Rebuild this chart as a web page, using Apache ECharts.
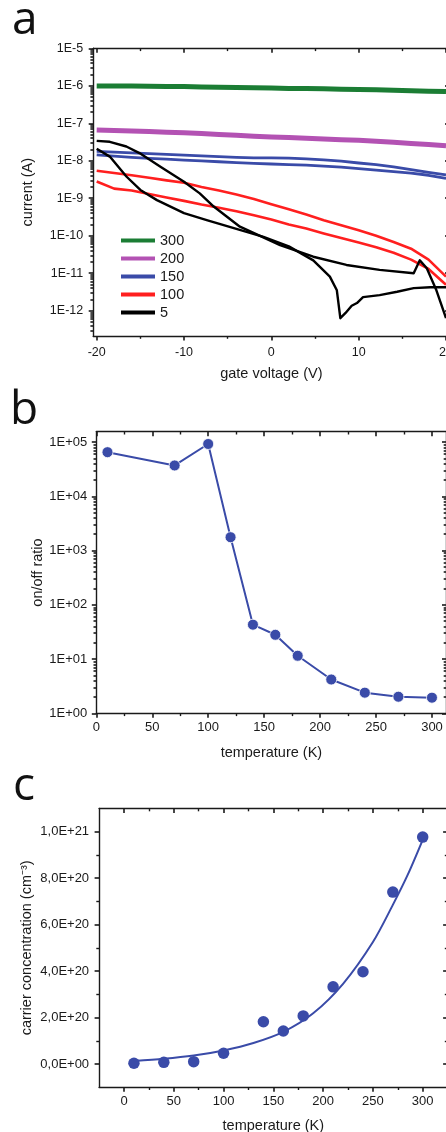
<!DOCTYPE html>
<html><head><meta charset="utf-8">
<script src="https://cdn.jsdelivr.net/npm/echarts@6/dist/echarts.min.js"></script>
<style>html,body{margin:0;padding:0;background:#fff;overflow:hidden;width:446px;height:1132px}#chart{width:460px;height:1132px}</style>
</head><body><div id="chart"></div>
<script>
// ---------------- Panel a: current vs gate voltage ----------------
const legendNames = ['300', '200', '150', '100', '5'];
const gateV = [-20,-18,-16,-14,-12,-10,-8,-6,-4,-2,0,2,4,6,8,10,12,14,16,18,20];
const i300 = [9.9e-7,9.8e-7,9.8e-7,9.7e-7,9.6e-7,9.5e-7,9.3e-7,9.1e-7,9.0e-7,8.8e-7,8.7e-7,8.5e-7,8.4e-7,8.3e-7,8.1e-7,7.9e-7,7.8e-7,7.6e-7,7.4e-7,7.2e-7,7.0e-7];
const i200 = [6.6e-8,6.4e-8,6.2e-8,6.0e-8,5.8e-8,5.6e-8,5.3e-8,5.0e-8,4.8e-8,4.5e-8,4.3e-8,4.2e-8,4.0e-8,3.8e-8,3.65e-8,3.5e-8,3.3e-8,3.1e-8,2.9e-8,2.7e-8,2.5e-8];
const i150Up = [1.78e-8,1.70e-8,1.62e-8,1.55e-8,1.48e-8,1.41e-8,1.35e-8,1.29e-8,1.23e-8,1.20e-8,1.19e-8,1.17e-8,1.12e-8,1.05e-8,9.8e-9,8.7e-9,7.9e-9,6.9e-9,5.8e-9,4.9e-9,4.2e-9];
const i150Down = [1.43e-8,1.32e-8,1.23e-8,1.15e-8,1.10e-8,1.04e-8,9.9e-9,9.4e-9,8.9e-9,8.5e-9,8.2e-9,7.9e-9,7.6e-9,7.2e-9,6.8e-9,6.2e-9,5.6e-9,5.1e-9,4.7e-9,4.1e-9,3.4e-9];
const i100Up = [5.4e-9,4.7e-9,4.1e-9,3.5e-9,3.0e-9,2.6e-9,2.0e-9,1.6e-9,1.26e-9,9.5e-10,6.9e-10,5.1e-10,3.7e-10,2.6e-10,1.9e-10,1.4e-10,1.0e-10,6.8e-11,4.5e-11,2.3e-11,8.1e-12];
const i100Down = [2.8e-9,1.8e-9,1.6e-9,1.3e-9,1.05e-9,8.5e-10,6.8e-10,5.6e-10,4.5e-10,3.5e-10,2.7e-10,2.0e-10,1.55e-10,1.15e-10,8.7e-11,6.6e-11,4.9e-11,3.5e-11,2.3e-11,1.3e-11,4.9e-12];
const v5Up = [-20,-18.5,-16.6,-15.1,-12.7,-10,-8.2,-6.6,-3.6,1.0,4.8,8.6,12.4,16.3,17.0,17.8,18.9,20];
const i5Up = [3.4e-8,3.2e-8,2.4e-8,1.6e-8,6.9e-9,2.75e-9,1.35e-9,6.0e-10,1.74e-10,5.6e-11,2.75e-11,1.66e-11,1.23e-11,1.0e-11,2.2e-11,1.35e-11,3.5e-12,6.3e-13];
const v5Down = [-20,-18.5,-16.6,-15,-13.1,-10,-7.4,-0.9,2,4.8,6.7,7.5,7.9,8.5,9.2,9.8,10.5,12.4,14.4,16.3,18.2,20];
const i5Down = [2.1e-8,1.29e-8,3.8e-9,1.66e-9,8.9e-10,4.0e-10,2.6e-10,9.3e-11,5.2e-11,2.2e-11,8.1e-12,3.5e-12,6.3e-13,8.7e-13,1.35e-12,1.6e-12,2.3e-12,2.6e-12,3.2e-12,4.0e-12,4.2e-12,4.2e-12];
const aXTicks = [-20, -10, 0, 10, 20];
const aYDecades = [1e-12, 1e-11, 1e-10, 1e-9, 1e-8, 1e-7, 1e-6, 1e-5];

// ---------------- Panel b: on/off ratio ----------------
const tempB = [10, 70, 100, 120, 140, 160, 180, 210, 240, 270, 300];
const onOff = [6.5e4, 3.7e4, 9.2e4, 1.76e3, 43, 28, 11.5, 4.2, 2.4, 2.02, 1.94];
const bXTicks = [0, 50, 100, 150, 200, 250, 300];
const bYDecades = [1, 10, 100, 1000, 1e4, 1e5];

// ---------------- Panel c: carrier concentration ----------------
const tempC = [10, 40, 70, 100, 140, 160, 180, 210, 240, 270, 300];
const carrier = [3e18, 7e18, 1.0e19, 4.6e19, 1.82e20, 1.42e20, 2.07e20, 3.32e20, 3.97e20, 7.4e20, 9.77e20];
const fitT = [10, 40, 70, 100, 130, 160, 190, 220, 250, 270, 285, 300];
const fitN = [1.3e19, 2.2e19, 3.6e19, 5.8e19, 9.0e19, 1.38e20, 2.18e20, 3.45e20, 5.25e20, 6.85e20, 8.15e20, 9.65e20];
const cXTicks = [0, 50, 100, 150, 200, 250, 300];
const cYTicks = [0, 2e20, 4e20, 6e20, 8e20, 1e21];

// ---------------- styling ----------------
const FONT = "'Liberation Sans', Arial, Helvetica, sans-serif";
const AXC = '#1a1a1a', TXT = '#1a1a1a';
const C300 = '#1b7d34', C200 = '#b352b3', C150 = '#3a4ba8', C100 = '#ff1f1f', C5 = '#000000';
const BLUE = '#3a4ba8';
const TL = 4.5, ML = 2.8;   // major / minor tick lengths
const lg = Math.log10;
const pairs = (xs, ys) => xs.map((x, i) => [x, ys[i]]);
const first = a => a[0], last = a => a[a.length - 1], step = a => a[1] - a[0];

const xAxes = [], yAxes = [];
function axis(list, gi, pos, type, min, max, o) {
  o = o || {};
  const cfg = {
    type: type, gridIndex: gi, position: pos, min: min, max: max, offset: o.offset || 0,
    axisLine: {show: !!o.line, onZero: false, lineStyle: {color: AXC, width: 1.4}},
    axisTick: {show: !!o.ticks, inside: true, length: o.len || TL, lineStyle: {color: AXC, width: 1.6}},
    minorTick: {show: !!o.minor, splitNumber: o.minor || 5, length: ML, lineStyle: {color: AXC, width: 1.4}},
    axisLabel: {show: !!o.labels, margin: o.margin || 6, fontFamily: FONT, fontSize: o.fs || 13, color: TXT},
    splitLine: {show: false}, minorSplitLine: {show: false}
  };
  if (o.name) {
    cfg.name = o.name; cfg.nameLocation = 'middle'; cfg.nameGap = o.nameGap; cfg.nameMoveOverlap = false;
    cfg.nameTextStyle = {fontFamily: FONT, fontSize: 14.5, color: TXT};
  }
  if (type === 'log') cfg.logBase = 10;
  if (o.interval) cfg.interval = o.interval;
  if (Array.isArray(o.ticks)) cfg.axisTick.customValues = o.ticks;
  if (o.fmt) cfg.axisLabel.formatter = o.fmt;
  list.push(cfg);
  return list.length - 1;
}
function logMinorExps(decades, lo, hi) {
  const out = [];
  [decades[0] / 10].concat(decades).forEach(d => {
    for (let k = 2; k <= 9; k++) { const v = k * d; if (v > lo && v < hi) out.push(lg(v)); }
  });
  return out;
}
const isPow = v => Math.abs(lg(v) - Math.round(lg(v))) < 1e-6;

// ===== panel a =====
const aXMin = -20.4, aXMax = 20.4, aYMin = 2.11e-13, aYMax = 1e-5;
const aX = axis(xAxes, 0, 'bottom', 'value', aXMin, aXMax, {line: true, name: 'gate voltage (V)', nameGap: 30});
axis(xAxes, 0, 'top', 'value', aXMin, aXMax, {line: true});
const aY = axis(yAxes, 0, 'left', 'log', aYMin, aYMax, {line: true, name: 'current (A)', nameGap: 58});
axis(yAxes, 0, 'right', 'log', aYMin, aYMax, {line: true});
const aMinorE = logMinorExps(aYDecades, aYMin, aYMax);
axis(yAxes, 0, 'left', 'value', lg(aYMin), lg(aYMax), {ticks: aMinorE, len: ML, offset: ML});
axis(yAxes, 0, 'right', 'value', lg(aYMin), lg(aYMax), {ticks: aMinorE, len: ML});
axis(xAxes, 3, 'bottom', 'value', first(aXTicks), last(aXTicks), {interval: step(aXTicks), ticks: true, offset: 25.3 + TL, labels: true, fs: 12.5, margin: 5.5});
axis(xAxes, 3, 'bottom', 'value', first(aXTicks), last(aXTicks), {interval: step(aXTicks), minor: 2, offset: 25.3 + ML});
axis(xAxes, 3, 'top', 'value', first(aXTicks), last(aXTicks), {interval: step(aXTicks), ticks: true, minor: 2});
axis(yAxes, 3, 'left', 'log', first(aYDecades), last(aYDecades), {ticks: true, offset: 3.5 + TL, labels: true, fs: 12.5, margin: 5.5,
  fmt: v => isPow(v) ? '1E' + Math.round(lg(v)) : ''});
axis(yAxes, 3, 'right', 'log', first(aYDecades), last(aYDecades), {ticks: true, offset: 3.5});

// ===== panel b =====
const bXMin = 0, bXMax = 313, bYMin = 1, bYMax = 1.55e5;
const bX = axis(xAxes, 1, 'bottom', 'value', bXMin, bXMax, {line: true, name: 'temperature (K)', nameGap: 32});
axis(xAxes, 1, 'top', 'value', bXMin, bXMax, {line: true});
const bY = axis(yAxes, 1, 'left', 'log', bYMin, bYMax, {line: true, name: 'on/off ratio', nameGap: 51});
axis(yAxes, 1, 'right', 'log', bYMin, bYMax, {line: true});
const bMinorE = logMinorExps(bYDecades, bYMin, bYMax);
axis(yAxes, 1, 'left', 'value', lg(bYMin), lg(bYMax), {ticks: bMinorE, len: ML, offset: ML});
axis(yAxes, 1, 'right', 'value', lg(bYMin), lg(bYMax), {ticks: bMinorE, len: ML});
axis(xAxes, 4, 'bottom', 'value', first(bXTicks), last(bXTicks), {interval: step(bXTicks), ticks: true, offset: TL, labels: true, margin: 3.5});
axis(xAxes, 4, 'bottom', 'value', first(bXTicks), last(bXTicks), {interval: step(bXTicks), minor: 2, offset: ML});
axis(xAxes, 4, 'top', 'value', first(bXTicks), last(bXTicks), {interval: step(bXTicks), ticks: true, minor: 2, offset: 10.3});
axis(yAxes, 4, 'left', 'log', first(bYDecades), last(bYDecades), {ticks: true, offset: TL, labels: true, margin: 4.5,
  fmt: v => { if (!isPow(v)) return ''; const e = Math.round(lg(v)); return '1E' + (e < 0 ? '-' : '+') + String(Math.abs(e)).padStart(2, '0'); }});
axis(yAxes, 4, 'right', 'log', first(bYDecades), last(bYDecades), {ticks: true, offset: 14.5});

// ===== panel c =====
const cXMin = -25, cXMax = 325, cYMin = -1e20, cYMax = 1.1e21;
const cX = axis(xAxes, 2, 'bottom', 'value', cXMin, cXMax, {line: true, name: 'temperature (K)', nameGap: 31});
axis(xAxes, 2, 'top', 'value', cXMin, cXMax, {line: true});
const cY = axis(yAxes, 2, 'left', 'value', cYMin, cYMax, {line: true, name: 'carrier concentration (cm⁻³)', nameGap: 65});
axis(yAxes, 2, 'right', 'value', cYMin, cYMax, {line: true});
axis(xAxes, 5, 'bottom', 'value', first(cXTicks), last(cXTicks), {interval: step(cXTicks), ticks: true, offset: 23.2 + TL, labels: true, margin: 3.5});
axis(xAxes, 5, 'bottom', 'value', first(cXTicks), last(cXTicks), {interval: step(cXTicks), minor: 2, offset: 23.2 + ML});
axis(xAxes, 5, 'top', 'value', first(cXTicks), last(cXTicks), {interval: step(cXTicks), ticks: true, minor: 2, offset: 23.2});
axis(yAxes, 5, 'left', 'value', first(cYTicks), last(cYTicks), {interval: step(cYTicks), ticks: true, offset: 24.9 + TL, labels: true, margin: 5.5,
  fmt: v => { if (v === 0) return '0,0E+00'; const e = Math.floor(lg(v) + 1e-9); return (v / Math.pow(10, e)).toFixed(1).replace('.', ',') + 'E+' + e; }});
axis(yAxes, 5, 'left', 'value', first(cYTicks), last(cYTicks), {interval: step(cYTicks), minor: 2, offset: 24.9 + ML});
axis(yAxes, 5, 'right', 'value', first(cYTicks), last(cYTicks), {interval: step(cYTicks), ticks: true, minor: 2, offset: 24.9});

function lineA(name, xs, ys, color, width) {
  return {type: 'line', name: name, xAxisIndex: aX, yAxisIndex: aY, data: pairs(xs, ys), symbol: 'none', showSymbol: false,
    color: color, itemStyle: {color: color}, lineStyle: {color: color, width: width, join: 'round'}};
}

const series = [
  lineA('300', gateV, i300, C300, 5),
  lineA('200', gateV, i200, C200, 5),
  lineA('150', gateV, i150Up, C150, 2.8),
  lineA('150', gateV, i150Down, C150, 2.8),
  lineA('100', gateV, i100Up, C100, 2.6),
  lineA('100', gateV, i100Down, C100, 2.6),
  lineA('5', v5Up, i5Up, C5, 2.4),
  lineA('5', v5Down, i5Down, C5, 2.4),
  {type: 'line', xAxisIndex: bX, yAxisIndex: bY, data: pairs(tempB, onOff), symbol: 'circle', symbolSize: 11,
    lineStyle: {color: BLUE, width: 2}, itemStyle: {color: BLUE, borderColor: '#ffffff', borderWidth: 0.8}},
  {type: 'line', xAxisIndex: cX, yAxisIndex: cY, data: pairs(fitT, fitN), symbol: 'none', smooth: 0.3,
    lineStyle: {color: BLUE, width: 2}},
  {type: 'scatter', xAxisIndex: cX, yAxisIndex: cY, data: pairs(tempC, carrier), symbol: 'circle', symbolSize: 11.5,
    itemStyle: {color: BLUE, opacity: 1}}
];

const chart = echarts.init(document.getElementById('chart'), null, {renderer: 'canvas'});
const G = (l, t, w, h) => ({left: l, top: t, width: w, height: h, containLabel: false, outerBoundsMode: 'none'});
chart.setOption({
  animation: false,
  backgroundColor: '#ffffff',
  grid: [
    G(93.2, 48.3, 356.3, 287.7),
    G(96.3, 431.7, 350.2, 281.6),
    G(99.1, 808.5, 348.5, 278.7),
    G(96.7, 48.3, 349.3, 262.4),
    G(96.3, 442, 335.7, 271.3),
    G(124, 831.7, 298.7, 232.3)
  ],
  xAxis: xAxes,
  yAxis: yAxes,
  legend: {
    data: legendNames, orient: 'vertical', left: 121, top: 233, padding: 0,
    itemWidth: 34, itemHeight: 4, itemGap: 3, icon: 'rect', selectedMode: false,
    textStyle: {fontFamily: FONT, fontSize: 14.5, color: TXT, lineHeight: 14}
  },
  graphic: [
    {type: 'text', left: 12, top: -2, silent: true, style: {text: 'a', fontFamily: "'Open Sans', 'DejaVu Sans', sans-serif", fontSize: 46, fill: '#111'}},
    {type: 'text', left: 10, top: 388, silent: true, style: {text: 'b', fontFamily: "'Open Sans', 'DejaVu Sans', sans-serif", fontSize: 46, fill: '#111'}},
    {type: 'text', left: 13, top: 764, silent: true, style: {text: 'c', fontFamily: "'Open Sans', 'DejaVu Sans', sans-serif", fontSize: 46, fill: '#111'}}
  ],
  series: series
});
</script>
</body></html>
